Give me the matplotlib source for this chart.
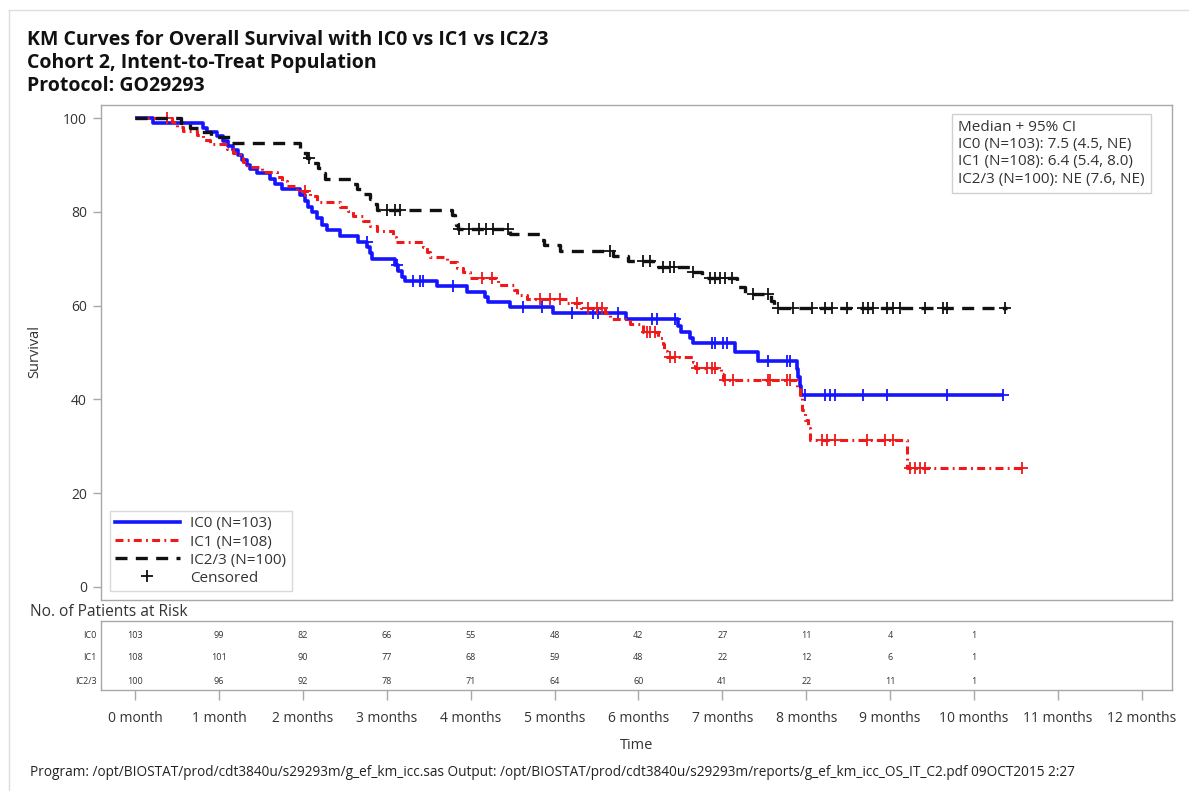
import numpy as np
import matplotlib
matplotlib.use("Agg")
import matplotlib.pyplot as plt
from matplotlib.lines import Line2D

# ---------------- data ----------------
ic0_t = [0.21, 0.81, 0.86, 0.98, 1.05, 1.11, 1.17, 1.23, 1.28, 1.33, 1.37, 1.45, 1.61, 1.67, 1.75,
         1.97, 2.03, 2.06, 2.11, 2.17, 2.23, 2.29, 2.44, 2.66, 2.77, 2.80, 2.82, 3.10, 3.13, 3.18,
         3.22, 3.60, 3.96, 4.17, 4.21, 4.47, 4.98, 5.85, 6.47, 6.51, 6.61, 6.65, 7.15, 7.43, 7.89,
         7.90, 7.93, 7.94]
ic0_s = [99.0, 98.0, 97.0, 96.1, 95.1, 94.1, 93.1, 92.1, 91.1, 90.1, 89.2, 88.2, 87.0, 86.0, 84.9,
         83.5, 82.3, 81.1, 79.9, 78.6, 77.3, 76.2, 74.8, 73.6, 72.5, 71.3, 69.9, 68.7, 67.4, 66.2,
         65.2, 64.2, 62.9, 61.8, 60.8, 59.7, 58.4, 57.1, 55.6, 54.3, 53.1, 52.0, 50.1, 48.1, 46.4,
         44.8, 42.8, 40.9]
ic0_end = 10.36
ic0_cens = [2.76, 3.12, 3.31, 3.40, 3.43, 3.79, 4.62, 4.85, 5.21, 5.46, 5.52, 5.76, 6.16, 6.22,
            6.44, 6.88, 6.91, 7.01, 7.06, 7.54, 7.77, 7.81, 7.99, 8.22, 8.28, 8.34, 8.68, 8.96,
            9.68, 10.35]

ic1_t = [0.44, 0.50, 0.57, 0.74, 0.81, 0.89, 1.10, 1.17, 1.25, 1.29, 1.33, 1.51, 1.69, 1.75, 1.81,
         1.93, 2.09, 2.17, 2.44, 2.54, 2.60, 2.72, 2.80, 2.88, 3.08, 3.11, 3.43, 3.48, 3.52, 3.72,
         3.84, 3.91, 3.99, 4.33, 4.52, 4.55, 4.67, 5.15, 5.32, 5.60, 5.66, 5.90, 6.05, 6.23, 6.29,
         6.31, 6.34, 6.65, 6.67, 6.98, 7.01, 7.89, 7.93, 7.95, 7.99, 8.02, 8.05, 9.20]
ic1_s = [99.1, 98.1, 97.2, 96.3, 95.3, 94.4, 93.5, 92.5, 91.6, 90.6, 89.6, 88.6, 87.5, 86.5, 85.5,
         84.5, 83.3, 82.1, 81.1, 80.1, 79.1, 78.1, 77.0, 75.9, 74.7, 73.6, 72.5, 71.4, 70.4, 69.3,
         68.1, 67.2, 66.0, 64.4, 63.3, 62.3, 61.5, 60.5, 59.6, 58.5, 57.2, 56.0, 54.4, 53.1, 51.8,
         50.4, 49.1, 47.9, 46.8, 45.5, 44.1, 42.6, 40.5, 37.7, 35.6, 33.9, 31.3, 25.4]
ic1_end = 10.61
ic1_cens = [0.38, 2.03, 4.14, 4.26, 4.83, 4.95, 5.07, 5.27, 5.40, 5.51, 5.57, 6.10, 6.14, 6.20,
            6.38, 6.44, 6.70, 6.82, 6.88, 6.91, 7.03, 7.13, 7.54, 7.57, 7.77, 7.81, 8.19, 8.25,
            8.34, 8.72, 8.94, 9.03, 9.24, 9.30, 9.36, 9.42, 10.57]

ic23_t = [0.55, 0.65, 0.75, 0.90, 1.15, 1.97, 2.00, 2.05, 2.12, 2.18, 2.22, 2.26, 2.60, 2.65, 2.72,
          2.80, 2.84, 2.88, 3.78, 3.81, 3.83, 3.85, 4.47, 4.83, 4.87, 5.06, 5.70, 5.88, 6.17, 6.61,
          6.76, 7.18, 7.27, 7.58, 7.62]
ic23_s = [99.0, 98.0, 97.0, 96.0, 94.8, 93.7, 92.6, 91.5, 90.4, 89.3, 88.2, 87.1, 86.0, 84.9, 83.8,
          82.7, 81.6, 80.5, 79.4, 78.3, 77.2, 76.3, 75.2, 74.1, 72.9, 71.7, 70.6, 69.5, 68.3, 67.1,
          65.8, 63.9, 62.4, 61.0, 59.6]
ic23_end = 10.39
ic23_cens = [2.07, 3.00, 3.10, 3.16, 3.86, 3.98, 4.10, 4.18, 4.27, 4.44, 5.66, 6.05, 6.14, 6.29,
             6.38, 6.42, 6.65, 6.85, 6.91, 6.97, 7.03, 7.12, 7.37, 7.54, 7.66, 7.84, 8.07, 8.22,
             8.31, 8.49, 8.68, 8.74, 8.80, 8.96, 9.03, 9.12, 9.42, 9.63, 9.68, 10.37]

months = list(range(13))
month_labels = ["0 month", "1 month"] + [f"{m} months" for m in range(2, 13)]
risk_groups = ["IC0", "IC1", "IC2/3"]
risk_ic0 = [103, 99, 82, 66, 55, 48, 42, 27, 11, 4, 1]
risk_ic1 = [108, 101, 90, 77, 68, 59, 48, 22, 12, 6, 1]
risk_ic23 = [100, 96, 92, 78, 71, 64, 60, 41, 22, 11, 1]
legend_labels = ["IC0 (N=103)", "IC1 (N=108)", "IC2/3 (N=100)", "Censored"]
median_lines = ["Median + 95% CI", "IC0 (N=103): 7.5 (4.5, NE)",
                "IC1 (N=108): 6.4 (5.4, 8.0)", "IC2/3 (N=100): NE (7.6, NE)"]

# ---------------- style ----------------
plt.rcParams['font.family'] = ['Open Sans', 'DejaVu Sans']
BLUE = "#1414ff"
RED = "#f01818"
BLACK = "#111111"
GRAY = "#a8a8a8"
TXT = "#333333"
RED_DASH = (2.6, 1.4, 0.6, 1.4)
BLACK_DASH = (3.6, 2.5)

W, H = 1189, 791
fig = plt.figure(figsize=(W / 100, H / 100), dpi=100)

def fx(px):
    return px / W

def fy(py):
    return 1 - py / H

L, R = 101, 1172
ax = fig.add_axes([fx(L), fy(600), fx(R - L), (600 - 105) / H])
axr = fig.add_axes([fx(L), fy(690), fx(R - L), (690 - 621) / H])

x0 = -(135 - L) / 83.9
x1 = (R - 135) / 83.9
for a in (ax, axr):
    a.set_xlim(x0, x1)
    for s in a.spines.values():
        s.set_color(GRAY)
        s.set_linewidth(1.0)

ax.set_ylim(-2.8, 102.8)

def draw(times, surv, end, cens, color, dashes, lw):
    t = np.concatenate([[0.0], np.asarray(times), [end]])
    s = np.concatenate([[100.0], np.asarray(surv), [surv[-1]]])
    line, = ax.step(t, s, where='post', color=color, lw=lw, solid_capstyle='butt')
    if dashes is not None:
        line.set_dashes(dashes)
    c = np.asarray(cens)
    idx = np.searchsorted(t, c, side='right') - 1
    ax.plot(c, s[idx], linestyle='none', marker='+', color=color, markersize=8,
            markeredgewidth=1.3)

draw(ic0_t, ic0_s, ic0_end, ic0_cens, BLUE, None, 2.6)
draw(ic1_t, ic1_s, ic1_end, ic1_cens, RED, RED_DASH, 2.2)
draw(ic23_t, ic23_s, ic23_end, ic23_cens, BLACK, BLACK_DASH, 2.4)

ax.set_yticks([0, 20, 40, 60, 80, 100])
ax.tick_params(axis='y', direction='out', length=6, width=1, color=GRAY, labelsize=10,
               labelcolor=TXT, pad=4)
ax.set_xticks([])
fig.text(fx(35), fy(352), "Survival", rotation=90, fontsize=10.5, color=TXT,
         ha='center', va='center')

# legend
handles = [Line2D([], [], color=BLUE, lw=2.6),
           Line2D([], [], color=RED, lw=2.2, dashes=RED_DASH),
           Line2D([], [], color=BLACK, lw=2.4, dashes=BLACK_DASH),
           Line2D([], [], color=BLACK, marker='+', linestyle='none', markersize=9,
                  markeredgewidth=1.3)]
leg = ax.legend(handles, legend_labels, loc='lower left',
                bbox_to_anchor=((110 - L) / (R - L), (600 - 591) / 495),
                fontsize=11, frameon=True, fancybox=False, handlelength=4.2,
                borderpad=0.35, labelspacing=0.2, handletextpad=0.7, borderaxespad=0)
leg.get_frame().set_edgecolor("#d0d0d0")
leg.get_frame().set_linewidth(1.0)
for t in leg.get_texts():
    t.set_color(TXT)

# median box
ax.text((958 - L) / (R - L), 1 - (120 - 105) / 495, "\n".join(median_lines),
        transform=ax.transAxes, ha='left', va='top', fontsize=11, color=TXT,
        linespacing=1.2,
        bbox=dict(boxstyle='square,pad=0.4', fc='white', ec="#d0d0d0", lw=1.0))

# at-risk table
axr.set_ylim(0, 1)
axr.set_yticks([])
row_y = [1 - (635 - 621) / 69, 1 - (658 - 621) / 69, 1 - (682 - 621) / 69]
for name, vals, yy in zip(risk_groups, [risk_ic0, risk_ic1, risk_ic23], row_y):
    axr.text(-0.004, yy, name, transform=axr.get_yaxis_transform(), ha='right',
             va='center', fontsize=6.5, color=TXT)
    for m, v in zip(months, vals):
        axr.text(m, yy, str(v), ha='center', va='center', fontsize=6.5, color=TXT)

axr.set_xticks(months)
axr.set_xticklabels(month_labels)
axr.tick_params(axis='x', direction='out', length=7, width=1, color=GRAY, labelsize=10,
                labelcolor=TXT, pad=8)
axr.set_xlabel("Time", fontsize=10.5, color=TXT, labelpad=9)

fig.text(fx(30), fy(612), "No. of Patients at Risk", fontsize=11.2, color=TXT,
         ha='left', va='center')

# titles
titles = ["KM Curves for Overall Survival with IC0 vs IC1 vs IC2/3",
          "Cohort 2, Intent-to-Treat Population",
          "Protocol: GO29293"]
for txt, yy in zip(titles, [40, 63, 86]):
    fig.text(fx(27), fy(yy), txt, fontsize=14, fontweight='bold', color="#111111",
             ha='left', va='center')

fig.text(fx(30), fy(772),
         "Program: /opt/BIOSTAT/prod/cdt3840u/s29293m/g_ef_km_icc.sas Output: "
         "/opt/BIOSTAT/prod/cdt3840u/s29293m/reports/g_ef_km_icc_OS_IT_C2.pdf 09OCT2015 2:27",
         fontsize=9.8, color="#222222", ha='left', va='center')

# outer page frame
fig.add_artist(Line2D([fx(9), fx(9)], [fy(10), fy(791)], transform=fig.transFigure,
                      color="#dddddd", lw=1))
fig.add_artist(Line2D([fx(9), fx(1189)], [fy(10), fy(10)], transform=fig.transFigure,
                      color="#dddddd", lw=1))

fig.savefig("out.png", dpi=100)
